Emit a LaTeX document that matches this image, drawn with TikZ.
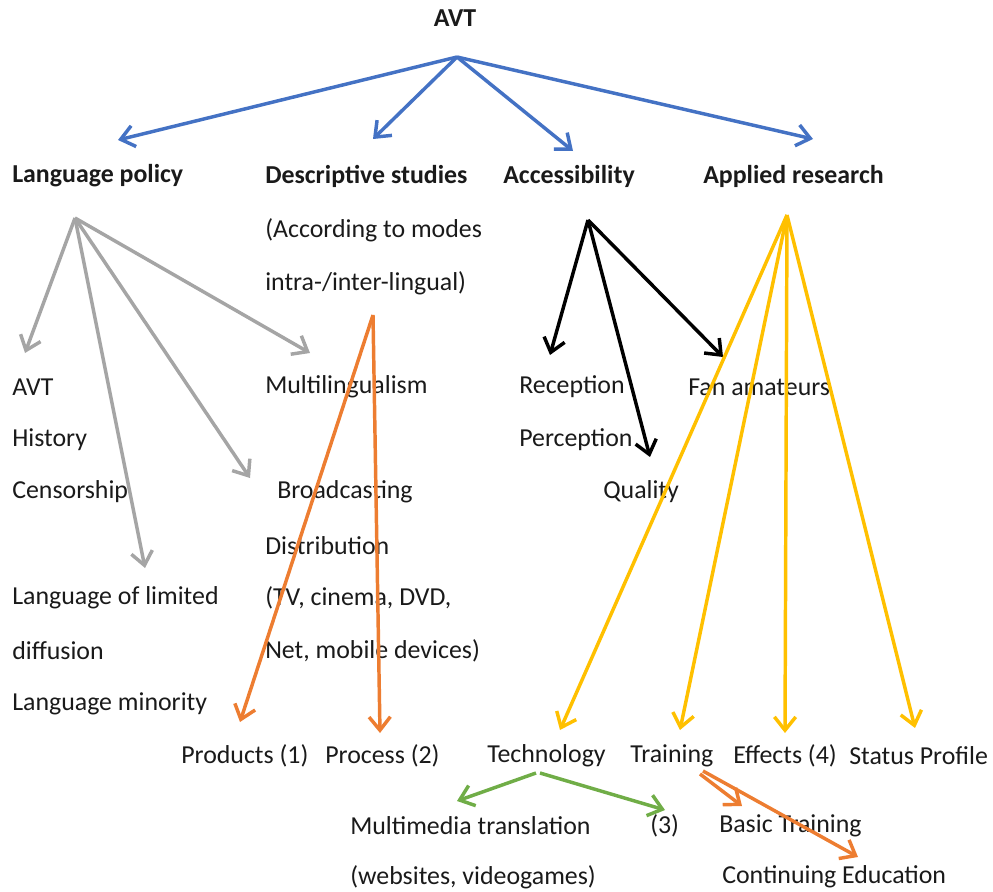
\documentclass[tikz,border=0pt]{standalone}
\usepackage{fontspec}
\setmainfont{Carlito}
\usetikzlibrary{arrows.meta}
\definecolor{cblue}{HTML}{4472C4}
\definecolor{cgray}{HTML}{A5A5A5}
\definecolor{corange}{HTML}{ED7D31}
\definecolor{cyellow}{HTML}{FFC000}
\definecolor{cgreen}{HTML}{70AD47}
\definecolor{ctext}{HTML}{1A1A1A}
\begin{document}
\begin{tikzpicture}[x=0.75pt,y=-0.75pt,
  lbl/.style={anchor=west,inner sep=0pt,font=\fontsize{19.4}{21}\selectfont,text=ctext},
  hdr/.style={lbl,font=\fontsize{19.4}{21}\selectfont\bfseries},
  arr/.style={line width=2.6pt,-{Straight Barb[length=10pt,width=16pt,line width=2.6pt]}},
  blueA/.style={arr,draw=cblue},
  grayA/.style={arr,draw=cgray},
  orangeA/.style={arr,draw=corange},
  yellowA/.style={arr,draw=cyellow},
  greenA/.style={arr,draw=cgreen},
  blackA/.style={arr,draw=black}]
\useasboundingbox (0,0) rectangle (993,892);
% text
\node[hdr,anchor=center] (avt) at (455,18) {AVT};
\node[hdr] (lp) at (12,176) {Language policy};
\node[hdr] (ds) at (265,176) {Descriptive studies};
\node[hdr] (acc) at (503,176) {Accessibility};
\node[hdr] (ar) at (703,176) {Applied research};
\node[lbl] (acm) at (265,230) {(According to modes};
\node[lbl] (iil) at (265,283) {intra-/inter-lingual)};
\node[lbl] (avt2) at (12,387) {AVT};
\node[lbl] (hist) at (12,440) {History};
\node[lbl] (cens) at (12,492) {Censorship};
\node[lbl] (multi) at (265,387) {Multilingualism};
\node[lbl] (broad) at (277,492) {Broadcasting};
\node[lbl] (distr) at (265,546) {Distribution};
\node[lbl] (tv) at (265,598) {(TV, cinema, DVD,};
\node[lbl] (net) at (265,651) {Net, mobile devices)};
\node[lbl] (llim) at (12,598) {Language of limited};
\node[lbl] (diff) at (12,651) {diffusion};
\node[lbl] (lmin) at (12,704) {Language minority};
\node[lbl] (rec) at (519,387) {Reception};
\node[lbl] (perc) at (519,440) {Perception};
\node[lbl] (qual) at (603,492) {Quality};
\node[lbl] (fan) at (688,387) {Fan amateurs};
\node[lbl] (prod) at (181,756) {Products (1)};
\node[lbl] (proc) at (325,756) {Process (2)};
\node[lbl] (tech) at (487,756) {Technology};
\node[lbl] (train) at (630,756) {Training};
\node[lbl] (eff) at (733,756) {Effects (4)};
\node[lbl] (stat) at (849,756) {Status Profile};
\node[lbl] (mmt) at (350,826) {Multimedia translation};
\node[lbl] (web) at (350,877) {(websites, videogames)};
\node[lbl] (three) at (650,826) {(3)};
\node[lbl] (basic) at (719,826) {Basic Training};
\node[lbl] (cont) at (722,877) {Continuing Education};
% coordinates
\coordinate (sAVT) at (457,57);
\coordinate (eLP) at (118,140);
\coordinate (eDS) at (373,139);
\coordinate (eACC) at (573,151);
\coordinate (eAR) at (813,139);
\coordinate (sLP) at (75,218);
\coordinate (eAVT2) at (25,353);
\coordinate (eMulti) at (310,353);
\coordinate (eBroad) at (250,478);
\coordinate (eLlim) at (145,568);
\coordinate (sDS) at (373,315);
\coordinate (eProd) at (240,722);
\coordinate (eProc) at (380,733);
\coordinate (sACC) at (588,220);
\coordinate (eRec) at (550,355);
\coordinate (eQual) at (650,457);
\coordinate (eFan) at (723,357);
\coordinate (sAR) at (787,215);
\coordinate (eTech) at (560,730);
\coordinate (eTrain) at (680,730);
\coordinate (eEff) at (785,733);
\coordinate (eStat) at (915,728);
\coordinate (sTech1) at (536,773);
\coordinate (sTech2) at (540,773);
\coordinate (eMMT) at (457,801);
\coordinate (eThree) at (665,810);
\coordinate (sTrain1) at (700,774);
\coordinate (sTrain2) at (703,771);
\coordinate (eBasic) at (742,806);
\coordinate (eCont) at (858,857);
% arrows
\draw[blueA] (sAVT) -- (eLP);
\draw[blueA] (sAVT) -- (eDS);
\draw[blueA] (sAVT) -- (eACC);
\draw[blueA] (sAVT) -- (eAR);
\draw[grayA] (sLP) -- (eAVT2);
\draw[grayA] (sLP) -- (eMulti);
\draw[grayA] (sLP) -- (eBroad);
\draw[grayA] (sLP) -- (eLlim);
\draw[orangeA] (sDS) -- (eProd);
\draw[orangeA] (sDS) -- (eProc);
\draw[blackA] (sACC) -- (eRec);
\draw[blackA] (sACC) -- (eQual);
\draw[blackA] (sACC) -- (eFan);
\draw[yellowA] (sAR) -- (eTech);
\draw[yellowA] (sAR) -- (eTrain);
\draw[yellowA] (sAR) -- (eEff);
\draw[yellowA] (sAR) -- (eStat);
\draw[greenA] (sTech1) -- (eMMT);
\draw[greenA] (sTech2) -- (eThree);
\draw[orangeA] (sTrain1) -- (eBasic);
\draw[orangeA] (sTrain2) -- (eCont);
\end{tikzpicture}
\end{document}
